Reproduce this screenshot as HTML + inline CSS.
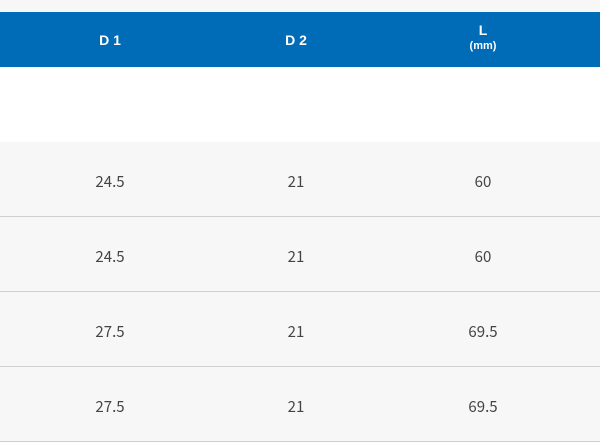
<!DOCTYPE html>
<html><head><style>
body{margin:0;width:600px;height:428px;background:#f7f7f7;position:relative;overflow:hidden;font-family:"Liberation Sans","Noto Sans CJK JP",sans-serif}
.hdr{position:absolute;left:0;top:12px;width:600px;height:55px;background:#006bb7;color:#fff;font-weight:bold}
.w{position:absolute;left:0;top:67px;width:600px;height:75px;background:#fff}
.c{position:absolute;transform:translateX(-50%);text-align:center;white-space:nowrap}
.row{position:absolute;left:0;width:600px;height:74px;border-bottom:1px solid #d0d0d0;color:#444;font-size:15px;font-family:"Noto Sans CJK KR","Liberation Sans",sans-serif;font-weight:normal}
.row .c{top:31px;line-height:18px}
</style></head><body>
<div class="hdr">
<div class="c" style="left:110px;top:20px;font-size:14px">D 1</div>
<div class="c" style="left:296px;top:20px;font-size:14px">D 2</div>
<div class="c" style="left:483px;top:11px;font-size:14px;line-height:14px">L<br><span style="font-size:11px;line-height:10px">(mm)</span></div>
</div>
<div class="w"></div>
<div class="row" style="top:142px"><div class="c" style="left:110px">24.5</div><div class="c" style="left:296px">21</div><div class="c" style="left:483px">60</div></div>
<div class="row" style="top:217px"><div class="c" style="left:110px">24.5</div><div class="c" style="left:296px">21</div><div class="c" style="left:483px">60</div></div>
<div class="row" style="top:292px"><div class="c" style="left:110px">27.5</div><div class="c" style="left:296px">21</div><div class="c" style="left:483px">69.5</div></div>
<div class="row" style="top:367px"><div class="c" style="left:110px">27.5</div><div class="c" style="left:296px">21</div><div class="c" style="left:483px">69.5</div></div>
</body></html>
